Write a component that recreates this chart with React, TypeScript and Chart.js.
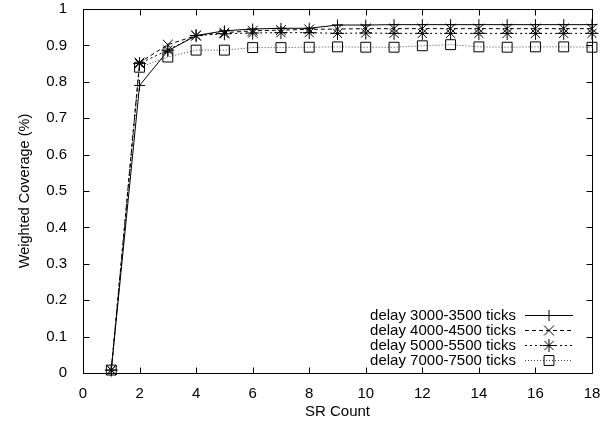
import React, { useEffect, useRef } from 'react';
import { Chart, registerables } from 'chart.js';
import { drawPoint } from 'chart.js/helpers';

Chart.register(...registerables);

const srCount = [1, 2, 3, 4, 5, 6, 7, 8, 9, 10, 11, 12, 13, 14, 15, 16, 17, 18];
const delay3000 = [0.008, 0.79, 0.885, 0.927, 0.94, 0.945, 0.947, 0.947, 0.956, 0.956, 0.957, 0.957, 0.957, 0.957, 0.957, 0.957, 0.957, 0.957];
const delay4000 = [0.008, 0.853, 0.902, 0.927, 0.935, 0.94, 0.942, 0.944, 0.945, 0.946, 0.946, 0.946, 0.946, 0.946, 0.946, 0.946, 0.946, 0.946];
const delay5000 = [0.008, 0.85, 0.887, 0.927, 0.932, 0.934, 0.935, 0.935, 0.933, 0.934, 0.933, 0.933, 0.933, 0.933, 0.933, 0.933, 0.933, 0.933];
const delay7000 = [0.008, 0.84, 0.868, 0.887, 0.887, 0.894, 0.894, 0.895, 0.896, 0.895, 0.895, 0.899, 0.902, 0.896, 0.895, 0.896, 0.896, 0.895];
const seriesLabels = ['delay 3000-3500 ticks', 'delay 4000-4500 ticks', 'delay 5000-5500 ticks', 'delay 7000-7500 ticks'];
const xTitle = 'SR Count';
const yTitle = 'Weighted Coverage (%)';

const FONT = '"Liberation Sans", Arial, Helvetica, sans-serif';

const framePlugin = {
  id: 'gpFrame',
  beforeDatasetsDraw(chart: any) {
    const { ctx, chartArea } = chart;
    const L = Math.round(chartArea.left) + 0.5;
    const R = Math.round(chartArea.right) + 0.5;
    const T = Math.round(chartArea.top) + 0.5;
    const B = Math.round(chartArea.bottom) + 0.5;
    const tl = 6;
    ctx.save();
    ctx.strokeStyle = '#000';
    ctx.lineWidth = 1;
    ctx.beginPath();
    ctx.rect(L, T, R - L, B - T);
    const xs = chart.scales.x;
    xs.ticks.forEach((t: any) => {
      const px = Math.round(xs.getPixelForValue(t.value)) + 0.5;
      ctx.moveTo(px, B);
      ctx.lineTo(px, B - tl);
      ctx.moveTo(px, T);
      ctx.lineTo(px, T + tl);
    });
    const ys = chart.scales.y;
    ys.ticks.forEach((t: any) => {
      const py = Math.round(ys.getPixelForValue(t.value)) + 0.5;
      ctx.moveTo(L, py);
      ctx.lineTo(L + tl, py);
      ctx.moveTo(R, py);
      ctx.lineTo(R - tl, py);
    });
    ctx.stroke();
    ctx.restore();
  },
};

const legendPlugin = {
  id: 'gpLegend',
  afterDatasetsDraw(chart: any) {
    const { ctx, chartArea } = chart;
    const dsets = chart.data.datasets;
    const n = dsets.length;
    const sampleRight = Math.round(chartArea.right - 19);
    const sampleLeft = sampleRight - 48;
    const rowH = 15;
    const lastY = chartArea.bottom - 13;
    ctx.save();
    ctx.font = '15px ' + FONT;
    ctx.textAlign = 'right';
    ctx.textBaseline = 'middle';
    dsets.forEach((ds: any, i: number) => {
      const y = Math.round(lastY - (n - 1 - i) * rowH) + 0.5;
      ctx.fillStyle = '#000';
      ctx.fillText(ds.label, sampleLeft - 9, y);
      ctx.beginPath();
      ctx.setLineDash(ds.borderDash || []);
      ctx.strokeStyle = ds.borderColor;
      ctx.lineWidth = 1;
      ctx.moveTo(sampleLeft, y);
      ctx.lineTo(sampleRight, y);
      ctx.stroke();
      ctx.setLineDash([]);
      ctx.strokeStyle = '#000';
      ctx.fillStyle = 'rgba(0,0,0,0)';
      drawPoint(ctx, { pointStyle: ds.pointStyle, radius: ds.pointRadius, borderWidth: 1, rotation: 0 } as any, (sampleLeft + sampleRight) / 2, y);
    });
    ctx.restore();
  },
};

export default function App() {
  const ref = useRef<HTMLCanvasElement | null>(null);
  useEffect(() => {
    if (!ref.current) return;
    const mk = (vals: number[]) => srCount.map((x, i) => ({ x, y: vals[i] }));
    const common = {
      borderWidth: 1,
      pointBorderWidth: 1,
      pointBorderColor: '#000',
      pointBackgroundColor: 'rgba(0,0,0,0)',
      tension: 0,
      clip: false as any,
    };
    const chart = new Chart(ref.current, {
      type: 'line',
      data: {
        datasets: [
          { ...common, label: seriesLabels[0], data: mk(delay3000), borderColor: '#000', borderDash: [], pointStyle: 'cross', pointRadius: 5.5 },
          { ...common, label: seriesLabels[1], data: mk(delay4000), borderColor: '#000', borderDash: [4, 3], pointStyle: 'crossRot', pointRadius: 7 },
          { ...common, label: seriesLabels[2], data: mk(delay5000), borderColor: '#000', borderDash: [2, 3], pointStyle: 'star', pointRadius: 6.5 },
          { ...common, label: seriesLabels[3], data: mk(delay7000), borderColor: '#444', borderDash: [1, 2], pointStyle: 'rect', pointRadius: 7 },
        ] as any,
      },
      options: {
        responsive: false,
        animation: false,
        devicePixelRatio: 1,
        layout: { padding: { top: 9, right: 18, left: 0, bottom: 0 } },
        plugins: { legend: { display: false }, tooltip: { enabled: false } },
        elements: { line: { fill: false } },
        scales: {
          x: {
            type: 'linear',
            min: 0,
            max: 18,
            grid: { display: false },
            border: { display: false },
            ticks: { stepSize: 2, color: '#000', font: { family: FONT, size: 15 }, padding: 4, maxRotation: 0 },
            title: { display: true, text: xTitle, color: '#000', font: { family: FONT, size: 15 }, padding: { top: 0, bottom: 2 } },
            afterFit: (s: any) => { s.height = 50; s.paddingLeft = 0; s.paddingRight = 0; },
          },
          y: {
            type: 'linear',
            min: 0,
            max: 1,
            grid: { display: false },
            border: { display: false },
            ticks: {
              stepSize: 0.1,
              color: '#000',
              font: { family: FONT, size: 15 },
              padding: 8,
              callback: (v: any) => String(Math.round(Number(v) * 10) / 10),
            },
            title: { display: true, text: yTitle, color: '#000', font: { family: FONT, size: 14.5 }, padding: { top: 16, bottom: 0 } },
            afterFit: (s: any) => { s.width = 83; s.paddingTop = 0; s.paddingBottom = 0; },
          },
        },
      },
      plugins: [framePlugin, legendPlugin],
    });
    return () => chart.destroy();
  }, []);
  return (
    <div style={{ position: 'absolute', left: 0, top: 0, width: 610, height: 423, background: '#fff' }}>
      <canvas ref={ref} width={610} height={423} />
    </div>
  );
}
